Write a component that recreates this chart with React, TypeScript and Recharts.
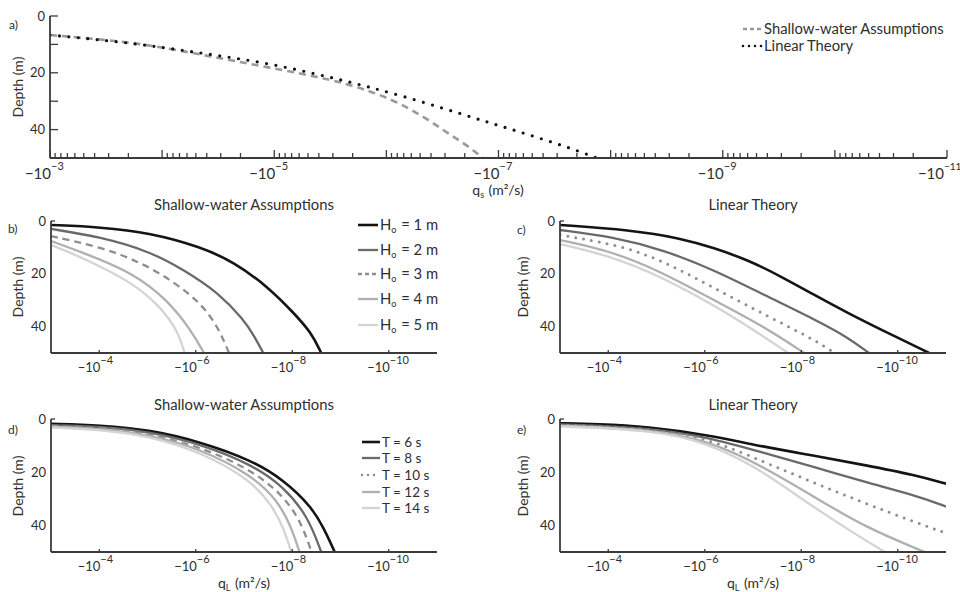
import React from 'react';
import { LineChart, Line, XAxis, YAxis } from 'recharts';

const FONT = 'Lato, "Open Sans", "DejaVu Sans", sans-serif';
const AXIS = '#3a3a3a';
const TEXT = '#2e2e2e';

// ---- values are log10(|q|) (q in m^2/s, negative) and depth in m ----
// Panel a
const aShallowQ = [-3, -3.5, -3.89, -4.4, -4.94, -5.53, -5.83, -6.125, -6.42, -6.57, -6.72, -6.86];
const aShallowD = [6.7, 8.4, 10.2, 14.0, 18, 22.5, 26.1, 30.6, 37.7, 41.9, 45.5, 50];
const aLinearQ = [-3, -3.74, -4.34, -4.94, -5.53, -6.125, -6.84, -7.13, -7.44, -7.73, -7.88];
const aLinearD = [6.7, 9.5, 13, 16.5, 21.8, 27.8, 36.6, 40.1, 43.9, 47.8, 50];

// Panel b (shallow-water, wave height)
const bH1Q = [-3, -4.02, -5.06, -6.1, -6.79, -7.5, -8.04, -8.4, -8.6];
const bH1D = [1.5, 2.3, 4.5, 9.8, 15.5, 25, 35, 42.4, 50];
const bH2Q = [-3, -4.02, -5.06, -5.75, -6.46, -7, -7.21, -7.4];
const bH2D = [3, 6, 11.6, 18.5, 27, 37.5, 43.5, 50];
const bH3Q = [-3, -4.02, -4.85, -5.54, -6.1, -6.46, -6.69];
const bH3D = [5.7, 9.8, 15.5, 23, 31, 40, 50];
const bH4Q = [-3, -3.67, -4.71, -5.42, -5.9, -6.17];
const bH4D = [7.6, 12, 19.7, 30, 41.3, 50];
const bH5Q = [-3, -3.67, -4.71, -5.27, -5.62, -5.77];
const bH5D = [9.1, 14, 23.5, 32.6, 41.3, 50];

// Panel c (linear theory, wave height)
const cH1Q = [-3, -4.46, -5.5, -6.19, -6.9, -7.58, -8.27, -8.98, -9.67, -10.65];
const cH1D = [1.5, 3.4, 6.5, 10.2, 14.8, 21, 28, 35, 41.3, 50];
const cH2Q = [-3, -4.1, -5.15, -6.19, -7.23, -8.27, -8.98, -9.4];
const cH2D = [3.4, 6, 11, 18.5, 28, 37.2, 44.2, 50];
const cH3Q = [-3, -4.46, -5.5, -6.54, -7.58, -8.27, -8.69];
const cH3D = [5.3, 9.8, 18.5, 28.8, 38.6, 45, 50];
const cH4Q = [-3, -4.1, -5.15, -6.19, -7.23, -8.06];
const cH4D = [7.2, 11.6, 19.7, 30, 40, 50];
const cH5Q = [-3, -4.1, -5.15, -6.19, -7.02, -7.73];
const cH5D = [8.7, 13.5, 21.6, 31.8, 41.3, 50];

// Panel d (shallow-water, period)
const dT6Q = [-3, -4.02, -5.06, -6.1, -7.15, -7.83, -8.4, -8.66, -8.88];
const dT6D = [1.8, 2.3, 4.1, 8.6, 15.4, 23, 33, 41.2, 50];
const dT8Q = [-3, -4.02, -5.06, -6.1, -7.15, -7.83, -8.33, -8.6];
const dT8D = [2.3, 2.8, 4.8, 9.4, 17, 25.5, 36.8, 50];
const dT10Q = [-3, -4.02, -5.06, -6.1, -7.15, -7.83, -8.19, -8.4];
const dT10D = [2.6, 3.2, 5.5, 10.5, 19, 29, 39, 50];
const dT12Q = [-3, -4.02, -5.06, -6.1, -7.15, -7.69, -7.98, -8.15];
const dT12D = [2.9, 3.6, 6.0, 11.3, 21, 30.4, 40.5, 50];
const dT14Q = [-3, -4.02, -5.06, -6.1, -7.15, -7.6, -7.82, -7.98];
const dT14D = [3.2, 4.0, 6.5, 12.4, 23, 33, 41, 50];

// Panel e (linear theory, period)
const eT6Q = [-3, -3.77, -4.81, -6.06, -7.23, -8.27, -9.31, -10.35, -11.02];
const eT6D = [1.6, 1.9, 2.9, 6, 10.5, 13.8, 17.3, 21, 24.4];
const eT8Q = [-3, -4.81, -6.06, -7.23, -8.27, -9.31, -10.35, -11.02];
const eT8D = [2.0, 3.2, 6.8, 12.8, 18, 23.7, 28.6, 33];
const eT10Q = [-3, -4.81, -6.06, -7.23, -8.27, -9.31, -10.35, -11.02];
const eT10D = [2.2, 3.5, 7.1, 16.2, 24, 31.6, 38.7, 43];
const eT12Q = [-3, -4.81, -6.06, -7.23, -8.27, -9.31, -10.56];
const eT12D = [2.5, 3.8, 7.9, 18, 29.3, 40.6, 50];
const eT14Q = [-3, -4.81, -6.06, -7.23, -7.94, -8.98, -9.73];
const eT14D = [2.8, 4.0, 8.6, 19.9, 29.3, 41.7, 50];

// tick labels
const decades = [-3, -4, -5, -6, -7, -8, -9, -10, -11];
const aLabeled = [-3, -5, -7, -9, -11];
const bLabeled = [-4, -6, -8, -10];
const yTicksA = [0, 10, 20, 30, 40, 50];
const yTicksB = [0, 20, 40];
const yLabels = [0, 20, 40];
const heightNames = ['1', '2', '3', '4', '5'];
const periodNames = ['6', '8', '10', '12', '14'];

const minorTicks: number[] = [];
decades.slice(1).forEach((n) => {
  for (let k = 2; k <= 9; k++) minorTicks.push(n + Math.log10(k));
});
const aTicks = [...decades, ...minorTicks];

type Style = { color: string; width: number; dash?: string; cap?: 'round' | 'butt' };
const sH1: Style = { color: '#141414', width: 2.6 };
const sH2: Style = { color: '#6a6a6a', width: 2.3 };
const sH3dash: Style = { color: '#8e8e8e', width: 2.3, dash: '7 5' };
const sH3dot: Style = { color: '#8e8e8e', width: 3, dash: '0 8', cap: 'round' };
const sH4: Style = { color: '#b0b0b0', width: 2.3 };
const sH5: Style = { color: '#d4d4d4', width: 2.3 };
const sShallowA: Style = { color: '#9a9a9a', width: 2.6, dash: '7 5' };
const sLinearA: Style = { color: '#111', width: 3.2, dash: '0 9.5', cap: 'round' };

type Series = { key: string; q: number[]; d: number[]; s: Style };
const rows = (q: number[], d: number[]) => q.map((v, i) => ({ q: v, depth: d[i] }));

const panelA: Series[] = [
  { key: 'sw', q: aShallowQ, d: aShallowD, s: sShallowA },
  { key: 'lt', q: aLinearQ, d: aLinearD, s: sLinearA },
];
const panelB: Series[] = [
  { key: 'h1', q: bH1Q, d: bH1D, s: sH1 },
  { key: 'h2', q: bH2Q, d: bH2D, s: sH2 },
  { key: 'h3', q: bH3Q, d: bH3D, s: sH3dash },
  { key: 'h4', q: bH4Q, d: bH4D, s: sH4 },
  { key: 'h5', q: bH5Q, d: bH5D, s: sH5 },
];
const panelC: Series[] = [
  { key: 'h1', q: cH1Q, d: cH1D, s: sH1 },
  { key: 'h2', q: cH2Q, d: cH2D, s: sH2 },
  { key: 'h3', q: cH3Q, d: cH3D, s: sH3dot },
  { key: 'h4', q: cH4Q, d: cH4D, s: sH4 },
  { key: 'h5', q: cH5Q, d: cH5D, s: sH5 },
];
const panelD: Series[] = [
  { key: 't6', q: dT6Q, d: dT6D, s: sH1 },
  { key: 't8', q: dT8Q, d: dT8D, s: sH2 },
  { key: 't10', q: dT10Q, d: dT10D, s: sH3dash },
  { key: 't12', q: dT12Q, d: dT12D, s: sH4 },
  { key: 't14', q: dT14Q, d: dT14D, s: sH5 },
];
const panelE: Series[] = [
  { key: 't6', q: eT6Q, d: eT6D, s: sH1 },
  { key: 't8', q: eT8Q, d: eT8D, s: sH2 },
  { key: 't10', q: eT10Q, d: eT10D, s: sH3dot },
  { key: 't12', q: eT12Q, d: eT12D, s: sH4 },
  { key: 't14', q: eT14Q, d: eT14D, s: sH5 },
];

type PanelProps = {
  left: number; top: number; w: number; h: number; series: Series[];
  xTicks: number[]; labeled: number[]; majorLen: number; minorLen: number;
  yTicks: number[]; yTickLen: number; zeroOnly: boolean; xFont: number; expFont: number; labelDy: number;
};

function Panel(p: PanelProps) {
  const ML = 44, MT = 10, MR = 14, XH = 36;
  const XTick = (props: any) => {
    const { x, y, payload } = props;
    const v = payload.value as number;
    const isMajor = Math.abs(v - Math.round(v)) < 1e-6;
    const len = isMajor ? p.majorLen : p.minorLen;
    const lab = p.labeled.some((l) => Math.abs(l - v) < 1e-6);
    // keep the right-most label inside the page
    const shift = x > 940 ? -4 : 0;
    const expSize = x > 940 ? p.expFont - 1 : p.expFont;
    return (
      <g>
        {len > 0 && <line x1={x} x2={x} y1={y} y2={y - len} stroke={AXIS} strokeWidth={1.3} />}
        {lab && (
          <g fontFamily={FONT} fill={TEXT}>
            <text x={x + 1 + shift} y={y + p.labelDy} textAnchor="end" fontSize={p.xFont}>−10</text>
            <text x={x + 1 + shift} y={y + p.labelDy - p.xFont * 0.6} textAnchor="start" fontSize={expSize}>
              {'−' + Math.abs(Math.round(v))}
            </text>
          </g>
        )}
      </g>
    );
  };
  const YTick = (props: any) => {
    const { x, y, payload } = props;
    const v = payload.value as number;
    const lab = yLabels.includes(v);
    const showTick = p.yTickLen > 0 && v < 50 && (!p.zeroOnly || v === 0);
    return (
      <g>
        {showTick && <line x1={x} x2={x + p.yTickLen} y1={y} y2={y} stroke={AXIS} strokeWidth={1.3} />}
        {lab && (
          <text x={x - 5} y={y} dy="0.36em" textAnchor="end" fontSize={13} fontFamily={FONT} fill={TEXT}>
            {v}
          </text>
        )}
      </g>
    );
  };
  return (
    <div style={{ position: 'absolute', left: p.left - ML, top: p.top - MT }}>
      <LineChart width={p.w + ML + MR} height={p.h + MT + XH} margin={{ top: MT, right: MR, left: 0, bottom: 0 }}>
        <XAxis
          type="number" dataKey="q" domain={[-11, -3]} reversed allowDataOverflow
          ticks={p.xTicks} interval={0} tickSize={0} tickMargin={0} tickLine={false}
          axisLine={{ stroke: AXIS, strokeWidth: 1.8 }} height={XH} tick={XTick}
        />
        <YAxis
          type="number" domain={[0, 50]} reversed allowDataOverflow
          ticks={p.yTicks} interval={0} width={ML} tickSize={0} tickMargin={0} tickLine={false}
          axisLine={{ stroke: AXIS, strokeWidth: 1.8 }} tick={YTick}
        />
        {p.series.map((s) => (
          <Line
            key={s.key} data={rows(s.q, s.d)} dataKey="depth" type="basis" dot={false}
            stroke={s.s.color} strokeWidth={s.s.width} strokeDasharray={s.s.dash}
            strokeLinecap={s.s.cap || 'butt'} isAnimationActive={false} activeDot={false}
          />
        ))}
      </LineChart>
    </div>
  );
}

const Sub = ({ t }: { t: string }) => (
  <>
    <tspan dy={3} fontSize={9}>{t}</tspan>
    <tspan dy={-3}>{'\u200a'}</tspan>
  </>
);

function LegendRow({ x, y, s, len, fs, children }: { x: number; y: number; s: Style; len: number; fs: number; children: any }) {
  return (
    <g>
      <line x1={x} x2={x + len} y1={y} y2={y} stroke={s.color}
        strokeWidth={s.cap === 'round' ? 2.6 : s.width}
        strokeDasharray={s.dash ? (s.cap === 'round' ? '0 6' : '4 3') : undefined}
        strokeLinecap={s.cap || 'butt'} />
      <text x={x + len + 2} y={y} dy="0.36em" fontSize={fs} fontFamily={FONT} fill={TEXT}>{children}</text>
    </g>
  );
}

function Overlay() {
  const hStyles = [sH1, sH2, sH3dash, sH4, sH5];
  const tStyles = [sH1, sH2, sH3dot, sH4, sH5];
  const hY = [225, 250, 274, 299, 325];
  const tY = [442, 458, 475, 492, 508];
  return (
    <svg width={960} height={592} style={{ position: 'absolute', left: 0, top: 0, pointerEvents: 'none' }}>
      <g fontFamily={FONT} fill={TEXT}>
        {/* panel letters */}
        <text x={9} y={29} fontSize={12}>a)</text>
        <text x={8} y={233} fontSize={12}>b)</text>
        <text x={517} y={234} fontSize={12}>c)</text>
        <text x={8} y={434} fontSize={12}>d)</text>
        <text x={517} y={434} fontSize={12}>e)</text>
        {/* y labels */}
        {[[18, 87], [18, 287], [523, 287], [18, 486], [523, 486]].map(([x, y], i) => (
          <text key={i} x={x} y={y} fontSize={14} textAnchor="middle" dy="0.36em" transform={`rotate(-90 ${x} ${y})`}>
            Depth (m)
          </text>
        ))}
        {/* titles */}
        <text x={244} y={210} fontSize={14.8} textAnchor="middle">Shallow-water Assumptions</text>
        <text x={753} y={210} fontSize={14.8} textAnchor="middle">Linear Theory</text>
        <text x={244} y={410} fontSize={14.8} textAnchor="middle">Shallow-water Assumptions</text>
        <text x={753} y={410} fontSize={14.8} textAnchor="middle">Linear Theory</text>
        {/* x labels */}
        <text x={498} y={195} fontSize={14} textAnchor="middle">q<Sub t="s" /> (m²/s)</text>
        <text x={244} y={588} fontSize={14} textAnchor="middle">q<Sub t="L" /> (m²/s)</text>
        <text x={753} y={588} fontSize={14} textAnchor="middle">q<Sub t="L" /> (m²/s)</text>
      </g>
      {/* legend a */}
      <LegendRow x={743} y={29} s={sShallowA} len={19} fs={14.8}>Shallow-water Assumptions</LegendRow>
      <LegendRow x={743} y={46} s={sLinearA} len={19} fs={14.8}>Linear Theory</LegendRow>
      {/* legend b */}
      {heightNames.map((n, i) => (
        <LegendRow key={n} x={358} y={hY[i]} s={hStyles[i]} len={20} fs={14.8}>
          H<Sub t="o" /> = {n} m
        </LegendRow>
      ))}
      {/* legend d */}
      {periodNames.map((n, i) => (
        <LegendRow key={n} x={362} y={tY[i]} s={tStyles[i]} len={18} fs={13.5}>
          T = {n}  s
        </LegendRow>
      ))}
    </svg>
  );
}

export default function App() {
  return (
    <div style={{ position: 'absolute', left: 0, top: 0, width: 960, height: 592, background: '#fff', overflow: 'hidden' }}>
      <Panel left={50} top={16} w={897} h={142} series={panelA} xTicks={aTicks} labeled={aLabeled}
        majorLen={8} minorLen={5} yTicks={yTicksA} yTickLen={8} zeroOnly={false} xFont={15} expFont={11} labelDy={21} />
      <Panel left={51} top={221} w={386} h={132} series={panelB} xTicks={bLabeled} labeled={bLabeled}
        majorLen={3} minorLen={0} yTicks={yTicksB} yTickLen={4} zeroOnly xFont={13} expFont={11} labelDy={19} />
      <Panel left={560} top={221} w={386} h={132} series={panelC} xTicks={bLabeled} labeled={bLabeled}
        majorLen={3} minorLen={0} yTicks={yTicksB} yTickLen={4} zeroOnly xFont={13} expFont={11} labelDy={19} />
      <Panel left={51} top={419} w={386} h={133} series={panelD} xTicks={bLabeled} labeled={bLabeled}
        majorLen={3} minorLen={0} yTicks={yTicksB} yTickLen={4} zeroOnly xFont={13} expFont={11} labelDy={19} />
      <Panel left={560} top={419} w={386} h={133} series={panelE} xTicks={bLabeled} labeled={bLabeled}
        majorLen={3} minorLen={0} yTicks={yTicksB} yTickLen={4} zeroOnly xFont={13} expFont={11} labelDy={19} />
      <Overlay />
    </div>
  );
}
